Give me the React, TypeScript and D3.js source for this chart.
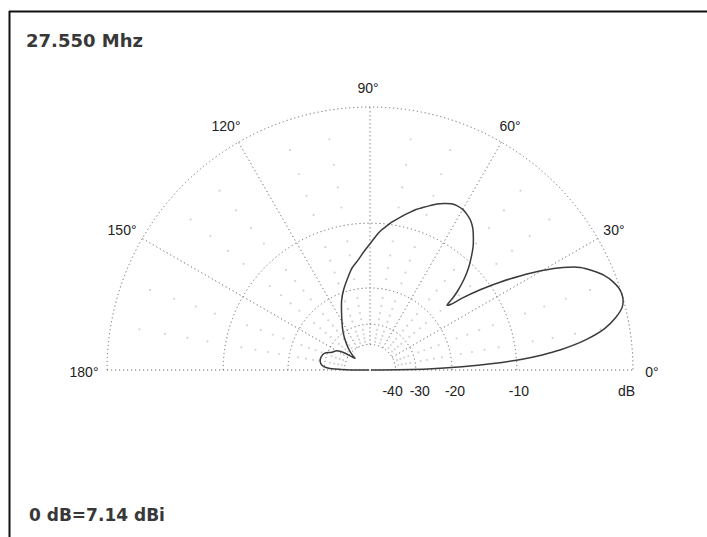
import React from "react";
import * as d3 from "d3";

// elevation pattern, angle in degrees from the horizon, gain relative to max (dB)
const ELEVATION = [
  0, 1, 2, 3, 4, 5, 6, 8, 10, 12, 14, 16, 18, 20, 22, 24, 26, 28, 30, 32, 34, 36, 38, 39, 40,
  41, 42, 44, 46, 48, 50, 52, 54, 56, 58, 60, 62, 64, 66, 68, 70, 72, 74, 76, 78, 80, 82, 84,
  86, 88, 90, 93, 96, 100, 104, 108, 112, 116, 120, 125, 130, 135, 140, 142, 144, 146, 150,
  155, 160, 165, 170, 174, 177, 179, 180,
];
const GAIN_DB = [
  -99, -26, -18, -13, -9.5, -7.2, -5.5, -3.2, -1.7, -0.8, -0.2, 0, -0.05, -0.3, -0.7, -1.3, -2.0,
  -3.2, -4.8, -6.7, -8.8, -11.2, -14, -15.8, -16.5, -15, -13.8, -12, -10.6, -9.5, -8.5, -7.7,
  -7.0, -6.5, -6.2, -6.0, -5.95, -6.05, -6.3, -6.6, -7.0, -7.4, -7.8, -8.3, -8.8, -9.3, -9.8,
  -10.4, -11.0, -11.8, -12.6, -13.7, -14.8, -16.0, -17.7, -19.4, -21.4, -24, -26.5, -29.5, -33,
  -37, -42, -45, -42, -37, -33, -31.5, -29, -28.3, -28.3, -29, -31, -38, -99,
];

const ANGLE_TICKS = [0, 30, 60, 90, 120, 150, 180];
const MINOR_ANGLES = [10, 20, 40, 50, 70, 80, 100, 110, 130, 140, 160, 170];
const RING_DB = [0, -10, -20, -30, -40];
const RING_LABELS = ["dB", "-10", "-20", "-30", "-40"];
const MINOR_DB = [-2, -4, -6, -8, -12, -14, -16, -18, -22, -24, -26, -28, -32, -34, -36, -38];

const FREQ_LABEL = "27.550 Mhz";
const REF_LABEL = "0 dB=7.14 dBi";

const W = 707;
const H = 537;
const cx = 370;
const cy = 370;
const R = 263;

// ARRL log scale: 2 dB per 0.89 of radius -> radius ~ power^0.253
const rScale = d3.scalePow().exponent(0.25305).domain([0, 1]).range([0, R]);
const rOf = (db: number) => rScale(Math.pow(10, db / 10));

const polar = (deg: number, r: number): [number, number] => {
  const a = (deg * Math.PI) / 180;
  return [cx + r * Math.cos(a), cy - r * Math.sin(a)];
};

const labelFont = "'Liberation Sans', Arial, sans-serif";
const titleFont = "'DejaVu Sans', Verdana, sans-serif";

export default function App() {
  const points: [number, number][] = ELEVATION.map((a, i) => [a, GAIN_DB[i]]);
  const pattern = d3
    .lineRadial<[number, number]>()
    .angle((d) => ((90 - d[0]) * Math.PI) / 180)
    .radius((d) => rOf(d[1]))
    .curve(d3.curveCatmullRom.alpha(0.5))(points);

  const ringPath = (r: number) => {
    const p = d3.path();
    p.moveTo(cx - r, cy);
    p.arc(cx, cy, r, Math.PI, 2 * Math.PI);
    return p.toString();
  };

  const dots: [number, number][] = [];
  MINOR_ANGLES.forEach((a) => MINOR_DB.forEach((db) => dots.push(polar(a, rOf(db)))));

  const ringLabelNudge = [0, 2, 3, 4, -3];
  const gridStyle = { fill: "none", stroke: "#6a6a6a", strokeWidth: 1, strokeDasharray: "1.2 2.8" };

  return (
    <svg
      width={W}
      height={H}
      style={{ position: "absolute", left: 0, top: 0, background: "#fff" }}
    >
      <rect x={0} y={0} width={W} height={H} fill="#fff" />
      <line x1={9} y1={11.5} x2={W} y2={11.5} stroke="#111" strokeWidth={2} />
      <line x1={9.5} y1={11} x2={9.5} y2={H} stroke="#111" strokeWidth={2} />

      {dots.map(([x, y], i) => (
        <circle key={i} cx={x} cy={y} r={1.1} fill="#d4d4d4" />
      ))}

      {RING_DB.map((db) => (
        <path key={db} d={ringPath(rOf(db))} style={gridStyle} />
      ))}

      <line x1={cx - R} y1={cy} x2={cx + R} y2={cy} style={gridStyle} />
      {ANGLE_TICKS.filter((a) => a > 0 && a < 180).map((a) => {
        const [x1, y1] = polar(a, rOf(-40));
        const [x2, y2] = polar(a, R);
        return <line key={a} x1={x1} y1={y1} x2={x2} y2={y2} style={gridStyle} />;
      })}

      <path
        d={pattern || ""}
        transform={`translate(${cx},${cy})`}
        fill="none"
        stroke="#3a3a3a"
        strokeWidth={1.5}
        strokeLinejoin="round"
      />

      {ANGLE_TICKS.map((a) => {
        const [x, y] = polar(a, 284);
        return (
          <text
            key={a}
            x={x - 2}
            y={y + 2}
            textAnchor="middle"
            dominantBaseline="central"
            fontFamily={labelFont}
            fontSize={14}
            fill="#222"
          >
            {a}°
          </text>
        );
      })}

      {RING_DB.map((db, i) => {
        const x = cx + rOf(db) + ringLabelNudge[i];
        return (
          <text
            key={db}
            x={i === 0 ? cx + R + 2 : x}
            y={391}
            textAnchor={i === 0 ? "end" : "middle"}
            dominantBaseline="central"
            fontFamily={labelFont}
            fontSize={14}
            fill="#222"
          >
            {RING_LABELS[i]}
          </text>
        );
      })}

      <text x={26} y={47} fontFamily={titleFont} fontWeight="bold" fontSize={18} fill="#383838">
        {FREQ_LABEL}
      </text>
      <text x={29} y={521} fontFamily={titleFont} fontWeight="bold" fontSize={17} fill="#383838">
        {REF_LABEL}
      </text>
    </svg>
  );
}
